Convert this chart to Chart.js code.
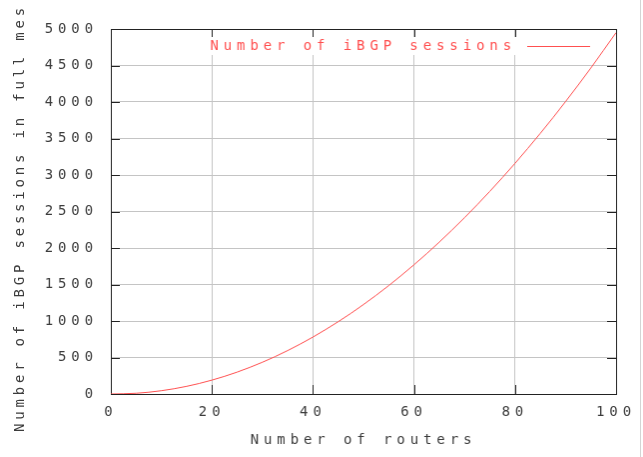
<!DOCTYPE html>
<html lang="en">
<head>
<meta charset="UTF-8">
<title>iBGP sessions in a full mesh</title>
<script src="https://cdn.jsdelivr.net/npm/chart.js"></script>
<style>
  html, body { margin: 0; padding: 0; background: #fff; }
  #wrap { width: 643px; height: 457px; }
  #chart { display: block; border-right: 1px solid #d4d4d4; }
</style>
</head>
<body>
<div id="wrap"><canvas id="chart" width="641" height="457"></canvas></div>
<script>
const routers  = [0, 5, 10, 15, 20, 25, 30, 35, 40, 45, 50, 55, 60, 65, 70, 75, 80, 85, 90, 95, 100];
const sessions = [0, 10, 45, 105, 190, 300, 435, 595, 780, 990, 1225, 1485, 1770, 2080, 2415, 2775, 3160, 3570, 4005, 4465, 4950];
const xTicks = [0, 20, 40, 60, 80, 100];
const yTicks = [0, 500, 1000, 1500, 2000, 2500, 3000, 3500, 4000, 4500, 5000];
const seriesLabel = 'Number of iBGP sessions';
const xTitle = 'Number of routers';
const yTitle = 'Number of iBGP sessions in full mesh';

const TEXT = '#3c3c3c';
const RED = '#ff5050';
const FONT = { family: '"DejaVu Sans Mono", monospace', size: 14 };
const SPACING = '4.9px';

// gnuplot-ish look: spaced text, boxed plot with inward ticks, key in the corner
const gnuplotLook = {
  id: 'gnuplotLook',
  beforeUpdate(chart) { chart.ctx.letterSpacing = SPACING; },
  beforeDraw(chart) { chart.ctx.letterSpacing = SPACING; },
  beforeDatasetsDraw(chart) {
    const { ctx, chartArea: a, scales } = chart;
    ctx.save();
    ctx.strokeStyle = '#222';
    ctx.lineWidth = 1;
    ctx.beginPath();
    xTicks.forEach(v => {
      const px = Math.round(scales.x.getPixelForValue(v)) + 0.5;
      ctx.moveTo(px, a.bottom); ctx.lineTo(px, a.bottom - 9);
      ctx.moveTo(px, a.top); ctx.lineTo(px, a.top + 9);
    });
    yTicks.forEach(v => {
      const py = Math.round(scales.y.getPixelForValue(v)) + 0.5;
      ctx.moveTo(a.left, py); ctx.lineTo(a.left + 9, py);
      ctx.moveTo(a.right, py); ctx.lineTo(a.right - 9, py);
    });
    ctx.stroke();
    ctx.strokeRect(Math.round(a.left) + 0.5, Math.round(a.top) + 0.5,
                   Math.round(a.right - a.left), Math.round(a.bottom - a.top));
    ctx.restore();
  },
  afterDraw(chart) {
    const { ctx, chartArea: a } = chart;
    const font = FONT.size + 'px ' + FONT.family;
    ctx.save();

    // y axis title, runs off the top of the picture like the original
    ctx.beginPath();
    ctx.rect(0, 6, 60, 451);
    ctx.clip();
    ctx.letterSpacing = '3.8px';
    ctx.font = font;
    ctx.fillStyle = TEXT;
    ctx.translate(20, 432);
    ctx.rotate(-Math.PI / 2);
    ctx.textAlign = 'left';
    ctx.textBaseline = 'middle';
    ctx.fillText(yTitle, 0, 0);
    ctx.restore();

    // key
    const y = a.top + 17;
    ctx.save();
    ctx.letterSpacing = SPACING;
    ctx.font = font;
    const w = ctx.measureText(seriesLabel).width;
    const textRight = a.right - 105;
    ctx.fillStyle = '#fff';
    ctx.fillRect(textRight - w, y - 9, w + 6, 18);
    ctx.fillStyle = RED;
    ctx.textAlign = 'right';
    ctx.textBaseline = 'middle';
    ctx.fillText(seriesLabel, textRight + 5, y);
    ctx.strokeStyle = RED;
    ctx.lineWidth = 1;
    ctx.beginPath();
    ctx.moveTo(a.right - 89, y + 0.5);
    ctx.lineTo(a.right - 26, y + 0.5);
    ctx.stroke();
    ctx.restore();
  }
};

new Chart(document.getElementById('chart'), {
  type: 'line',
  data: {
    datasets: [{
      label: seriesLabel,
      data: routers.map((r, i) => ({ x: r, y: sessions[i] })),
      borderColor: RED,
      borderWidth: 1,
      pointRadius: 0,
      cubicInterpolationMode: 'monotone',
      fill: false
    }]
  },
  options: {
    responsive: false,
    animation: false,
    layout: { padding: { left: 0, top: 29, right: 24, bottom: 0 } },
    plugins: { legend: { display: false }, tooltip: { enabled: false } },
    scales: {
      x: {
        type: 'linear', min: 0, max: 100,
        afterBuildTicks: s => { s.ticks = xTicks.map(v => ({ value: v })); },
        afterFit: s => { s.height = 63; s.paddingLeft = 0; s.paddingRight = 0; },
        grid: { color: '#c4c4c4', drawTicks: false },
        border: { display: false },
        ticks: { padding: 10, color: TEXT, font: FONT, maxRotation: 0, autoSkip: false,
                 callback: v => String(v) },
        title: { display: true, text: xTitle, color: TEXT, font: FONT, padding: { top: 0, bottom: 8 } }
      },
      y: {
        type: 'linear', min: 0, max: 5000,
        afterBuildTicks: s => { s.ticks = yTicks.map(v => ({ value: v })); },
        afterFit: s => { s.width = 111; s.paddingTop = 0; s.paddingBottom = 0; },
        grid: { color: '#c4c4c4', drawTicks: false },
        border: { display: false },
        ticks: { padding: 13, color: TEXT, font: FONT, autoSkip: false,
                 callback: v => String(v) },
        title: { display: false, text: yTitle }
      }
    }
  },
  plugins: [gnuplotLook]
});
</script>
</body>
</html>
